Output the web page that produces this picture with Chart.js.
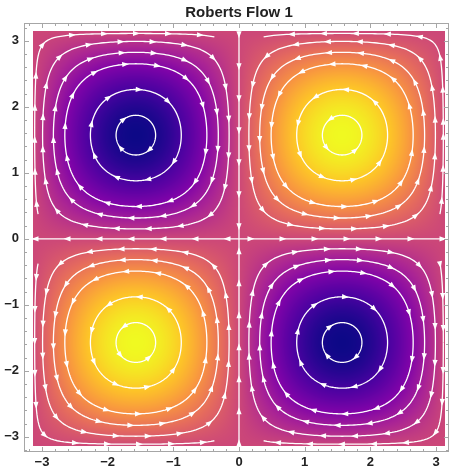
<!DOCTYPE html>
<html>
<head>
<meta charset="utf-8">
<script src="https://cdn.jsdelivr.net/npm/chart.js@4/dist/chart.umd.min.js"></script>
<style>
  html, body { margin: 0; padding: 0; background: #fff; }
  #wrap { width: 451px; height: 469px; }
</style>
</head>
<body>
<div id="wrap"><canvas id="flow"></canvas></div>
<script>
const TITLE = 'Roberts Flow 1';
const X_RANGE = [-3.274, 3.198];
const Y_RANGE = [-3.23, 3.27];
const FIELD_EXTENT = [-Math.PI, Math.PI];
const MAJOR_TICKS = [-3, -2, -1, 0, 1, 2, 3];
const MINOR_STEP = 0.2;
const CELL_CENTERS = [-Math.PI / 2, Math.PI / 2];
const STREAM_LEVELS = [0.03, 0.15, 0.31, 0.47, 0.77, 0.955];
const PLASMA = ['#0d0887', '#4c02a1', '#7e03a8', '#a92395', '#cc4778', '#e56b5d', '#f89540', '#fdc527', '#f0f921'];

const LABEL_FONT = { family: "'Liberation Sans', Arial, sans-serif", size: 13, weight: 'bold' };
const ARROW_GAP = 32;

// Roberts cell: vorticity-like density and in-plane velocity
const density = (x, y) => Math.sin(x) * Math.sin(y);
const velocity = (x, y) => [Math.sin(x) * Math.cos(y), -Math.cos(x) * Math.sin(y)];

const plasmaRgb = PLASMA.map(h => [1, 3, 5].map(i => parseInt(h.slice(i, i + 2), 16)));
function plasmaAt(t) {
    t = Math.min(1, Math.max(0, t)) * (plasmaRgb.length - 1);
    const i = Math.min(plasmaRgb.length - 2, Math.floor(t));
    const f = t - i;
    return plasmaRgb[i].map((c, k) => c + (plasmaRgb[i + 1][k] - c) * f);
}

const fmt = v => (v < 0 ? '\u2212' + Math.abs(v) : String(v));

// closed stream line |psi| = level around one cell centre
function loopPoints(cx, cy, level, n = 260) {
    const pts = [];
    for (let k = 0; k <= n; k += 1) {
        const a = (2 * Math.PI * k) / n;
        const ca = Math.cos(a), sa = Math.sin(a);
        let lo = 0, hi = (Math.PI / 2) / Math.max(Math.abs(ca), Math.abs(sa));
        for (let it = 0; it < 32; it += 1) {
            const mid = (lo + hi) / 2;
            if (Math.abs(density(cx + mid * ca, cy + mid * sa)) > level) lo = mid; else hi = mid;
        }
        const r = (lo + hi) / 2;
        pts.push({ x: cx + r * ca, y: cy + r * sa });
    }
    return pts;
}

function drawArrow(ctx, px, py, x, y, xs, ys) {
    const [u, v] = velocity(x, y);
    let dx = xs.getPixelForValue(x + u * 1e-3) - px;
    let dy = ys.getPixelForValue(y + v * 1e-3) - py;
    const len = Math.hypot(dx, dy);
    if (len < 1e-9) return;
    dx /= len; dy /= len;
    ctx.beginPath();
    ctx.moveTo(px + dx * 3.5, py + dy * 3.5);
    ctx.lineTo(px - dx * 3.5 - dy * 2.6, py - dy * 3.5 + dx * 2.6);
    ctx.lineTo(px - dx * 3.5 + dy * 2.6, py - dy * 3.5 - dx * 2.6);
    ctx.closePath();
    ctx.fill();
}

// stroke a polyline (data coords) and drop arrowheads at a fixed arc spacing
function drawStream(ctx, pts, xs, ys, offset) {
    const pix = pts.map(p => [xs.getPixelForValue(p.x), ys.getPixelForValue(p.y)]);
    ctx.beginPath();
    pix.forEach(([px, py], i) => (i ? ctx.lineTo(px, py) : ctx.moveTo(px, py)));
    ctx.stroke();
    let next = offset, run = 0;
    for (let i = 1; i < pix.length; i += 1) {
        const seg = Math.hypot(pix[i][0] - pix[i - 1][0], pix[i][1] - pix[i - 1][1]);
        while (run + seg >= next) {
            const f = (next - run) / seg;
            const px = pix[i - 1][0] + (pix[i][0] - pix[i - 1][0]) * f;
            const py = pix[i - 1][1] + (pix[i][1] - pix[i - 1][1]) * f;
            const x = pts[i - 1].x + (pts[i].x - pts[i - 1].x) * f;
            const y = pts[i - 1].y + (pts[i].y - pts[i - 1].y) * f;
            drawArrow(ctx, px, py, x, y, xs, ys);
            next += ARROW_GAP;
        }
        run += seg;
    }
}

const fieldPlugin = {
    id: 'field',
    beforeDatasetsDraw(chart) {
        const { ctx } = chart;
        const xs = chart.scales.x, ys = chart.scales.y;
        const x0 = Math.round(xs.getPixelForValue(FIELD_EXTENT[0]));
        const x1 = Math.round(xs.getPixelForValue(FIELD_EXTENT[1]));
        const y0 = Math.round(ys.getPixelForValue(FIELD_EXTENT[1]));
        const y1 = Math.round(ys.getPixelForValue(FIELD_EXTENT[0]));
        const w = x1 - x0, h = y1 - y0;
        const off = document.createElement('canvas');
        off.width = w; off.height = h;
        const octx = off.getContext('2d');
        const img = octx.createImageData(w, h);
        for (let j = 0; j < h; j += 1) {
            const y = ys.getValueForPixel(y0 + j + 0.5);
            for (let i = 0; i < w; i += 1) {
                const x = xs.getValueForPixel(x0 + i + 0.5);
                const c = plasmaAt((density(x, y) + 1) / 2);
                const k = (j * w + i) * 4;
                img.data[k] = c[0]; img.data[k + 1] = c[1]; img.data[k + 2] = c[2]; img.data[k + 3] = 255;
            }
        }
        octx.putImageData(img, 0, 0);
        ctx.save();
        ctx.drawImage(off, x0, y0);

        ctx.beginPath();
        ctx.rect(x0, y0, w, h);
        ctx.clip();
        ctx.strokeStyle = '#ffffff';
        ctx.fillStyle = '#ffffff';
        ctx.lineWidth = 1.3;
        ctx.lineJoin = 'round';

        CELL_CENTERS.forEach(cx => CELL_CENTERS.forEach(cy => {
            STREAM_LEVELS.forEach((level, li) => {
                const loop = loopPoints(cx, cy, level);
                if (li === 0) {
                    // outermost line only hugs the outer walls
                    let part = [];
                    loop.forEach(p => {
                        if (Math.abs(p.x) < 0.35 || Math.abs(p.y) < 0.35) {
                            if (part.length > 1) drawStream(ctx, part, xs, ys, 14);
                            part = [];
                        } else part.push(p);
                    });
                    if (part.length > 1) drawStream(ctx, part, xs, ys, 14);
                } else {
                    drawStream(ctx, loop, xs, ys, 9 + li * 7);
                }
            });
        }));

        // separatrices along the axes, running outward from the origin
        [[1, 0], [-1, 0], [0, 1], [0, -1]].forEach(([ax, ay]) => {
            const line = [];
            for (let k = 0; k <= 60; k += 1) {
                const s = (Math.PI * k) / 60;
                line.push({ x: ax * s, y: ay * s });
            }
            drawStream(ctx, line, xs, ys, 12);
        });
        ctx.restore();
    },
    afterDraw(chart) {
        const { ctx, chartArea: a } = chart;
        const xs = chart.scales.x, ys = chart.scales.y;
        ctx.save();
        ctx.strokeStyle = '#a6a6a6';
        ctx.lineWidth = 1;
        ctx.strokeRect(a.left + 0.5, a.top + 0.5, a.right - a.left - 1, a.bottom - a.top - 1);
        ctx.beginPath();
        for (let v = -3.2; v <= 3.21; v += MINOR_STEP) {
            const val = Math.round(v * 10) / 10;
            const len = MAJOR_TICKS.includes(val) ? 5 : 3;
            if (val >= X_RANGE[0] && val <= X_RANGE[1]) {
                const px = Math.round(xs.getPixelForValue(val)) + 0.5;
                ctx.moveTo(px, a.bottom); ctx.lineTo(px, a.bottom - len);
                ctx.moveTo(px, a.top); ctx.lineTo(px, a.top + len);
            }
            if (val >= Y_RANGE[0] && val <= Y_RANGE[1]) {
                const py = Math.round(ys.getPixelForValue(val)) + 0.5;
                ctx.moveTo(a.left, py); ctx.lineTo(a.left + len, py);
                ctx.moveTo(a.right, py); ctx.lineTo(a.right - len, py);
            }
        }
        ctx.stroke();

        ctx.fillStyle = '#222';
        ctx.font = "bold 15px 'Liberation Sans', Arial, sans-serif";
        ctx.textAlign = 'center';
        ctx.textBaseline = 'middle';
        ctx.fillText(TITLE, xs.getPixelForValue(0), 13);
        ctx.restore();
    }
};

new Chart(document.getElementById('flow'), {
    type: 'scatter',
    data: { datasets: [] },
    options: {
        responsive: true,
        maintainAspectRatio: false,
        animation: false,
        events: [],
        layout: { padding: { top: 23, right: 2, left: 0, bottom: 0 } },
        plugins: { legend: { display: false }, tooltip: { enabled: false } },
        scales: {
            x: {
                type: 'linear',
                min: X_RANGE[0],
                max: X_RANGE[1],
                afterBuildTicks: s => { s.ticks = MAJOR_TICKS.map(value => ({ value })); },
                afterFit: s => { s.height = 17; },
                grid: { display: false, drawTicks: false },
                border: { display: false },
                ticks: { font: LABEL_FONT, color: '#222', padding: 3, maxRotation: 0, autoSkip: false, callback: fmt }
            },
            y: {
                type: 'linear',
                min: Y_RANGE[0],
                max: Y_RANGE[1],
                afterBuildTicks: s => { s.ticks = MAJOR_TICKS.map(value => ({ value })); },
                afterFit: s => { s.width = 24; },
                grid: { display: false, drawTicks: false },
                border: { display: false },
                ticks: { font: LABEL_FONT, color: '#222', padding: 5, autoSkip: false, callback: fmt }
            }
        }
    },
    plugins: [fieldPlugin]
});
</script>
</body>
</html>
